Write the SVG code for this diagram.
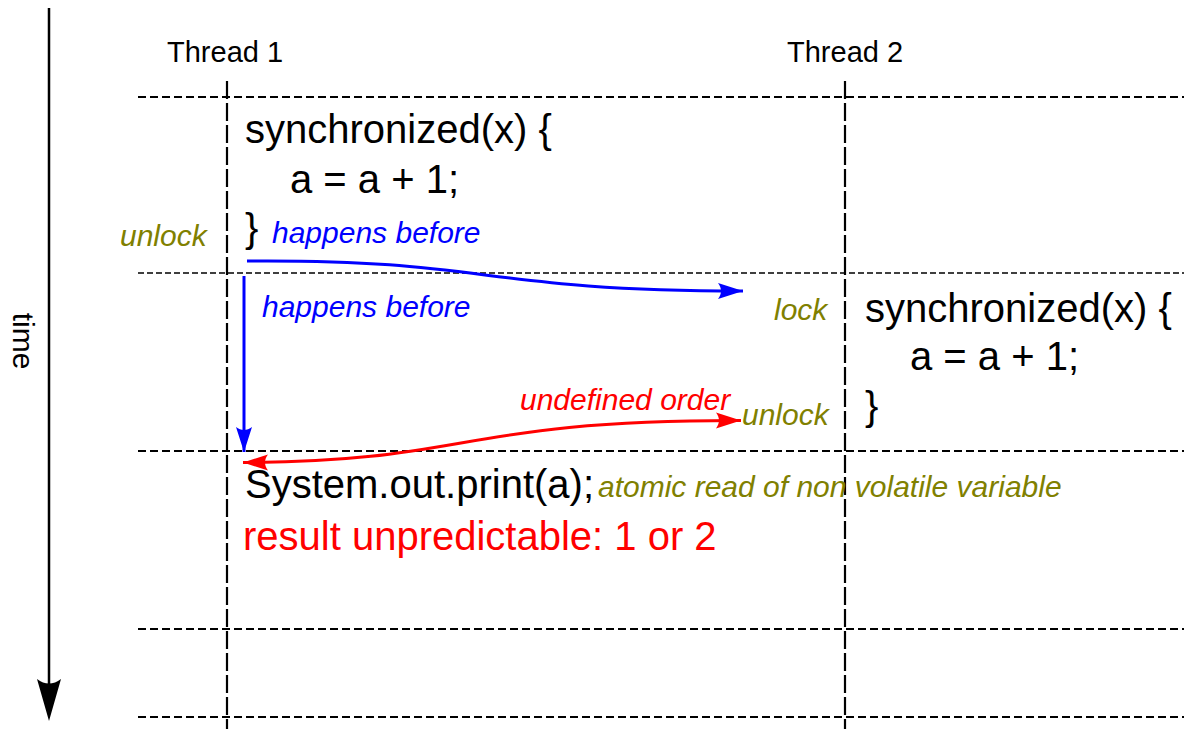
<svg xmlns="http://www.w3.org/2000/svg" width="1185" height="731" viewBox="0 0 1185 731">
  <style>
    text { font-family: "Liberation Sans", Arial, sans-serif; }
    .code { font-size: 40px; fill: #000; }
    .thread { font-size: 29px; fill: #000; }
    .note { font-size: 30px; font-style: italic; }
    .olive { fill: #808000; }
    .blue { fill: #0000ff; }
    .red { fill: #ff0000; }
    .grid { stroke: #000; fill: none; }
    .hline { stroke-width: 2.2; stroke-dasharray: 8 4; }
    .hthin { stroke-width: 1.3; stroke-dasharray: 6 3; }
    .vline { stroke-width: 2.2; stroke-dasharray: 18 4; }
    .conn { fill: none; stroke-width: 3; }
  </style>
  <defs>
    <marker id="arrowBlue" markerUnits="userSpaceOnUse" orient="auto" refX="0" refY="0" markerWidth="30" markerHeight="20" overflow="visible">
      <path d="M0,0 L-25,-8 C-21,-3 -21,3 -25,8 Z" fill="#0000ff"/>
    </marker>
    <marker id="arrowRed" markerUnits="userSpaceOnUse" orient="auto-start-reverse" refX="0" refY="0" markerWidth="30" markerHeight="20" overflow="visible">
      <path d="M0,0 L-25,-8 C-21,-3 -21,3 -25,8 Z" fill="#ff0000"/>
    </marker>
  </defs>

  <!-- time axis -->
  <g id="time-axis">
    <line x1="49" y1="8" x2="49" y2="700" stroke="#000" stroke-width="2.5"/>
    <path d="M49,721 L37,679 Q49,688 61,679 Z" fill="#000"/>
    <text x="13" y="341" font-size="30" text-anchor="middle" transform="rotate(90 13 341)">time</text>
  </g>

  <!-- grid: time slices and thread lanes -->
  <g id="grid" class="grid">
    <line class="hline" x1="138" y1="97" x2="1184" y2="97"/>
    <line class="hthin" x1="138" y1="273" x2="1184" y2="273"/>
    <line class="hline" x1="138" y1="451" x2="1184" y2="451"/>
    <line class="hline" x1="138" y1="629" x2="1184" y2="629"/>
    <line class="hline" x1="138" y1="717" x2="1184" y2="717"/>
    <line class="vline" x1="227" y1="81" x2="227" y2="729"/>
    <line class="vline" x1="845" y1="81" x2="845" y2="729"/>
  </g>

  <g id="thread1-label"><text class="thread" x="167" y="62">Thread 1</text></g>
  <g id="thread2-label"><text class="thread" x="787" y="62">Thread 2</text></g>

  <!-- thread 1 synchronized block -->
  <g id="t1-sync">
    <text class="code" x="245" y="143">synchronized(x) {</text>
    <text class="code" x="290" y="193">a = a + 1;</text>
    <text class="code" x="245" y="242">}</text>
    <text class="note olive" x="120" y="246">unlock</text>
  </g>

  <!-- thread 2 synchronized block -->
  <g id="t2-sync">
    <text class="note olive" x="774" y="320">lock</text>
    <text class="code" x="865" y="322">synchronized(x) {</text>
    <text class="code" x="910" y="370">a = a + 1;</text>
    <text class="code" x="865" y="420">}</text>
    <text class="note olive" x="742" y="425">unlock</text>
  </g>

  <!-- thread 1 read -->
  <g id="t1-read">
    <text class="code" x="245" y="498">System.out.print(a);</text>
    <text class="note olive" x="598" y="497">atomic read of non volatile variable</text>
    <text class="code red" x="243" y="550">result unpredictable: 1 or 2</text>
  </g>

  <!-- ordering relations -->
  <g id="connectors">
    <path class="conn" stroke="#0000ff" d="M247,261 C490,259 480,291 743,291" marker-end="url(#arrowBlue)"/>
    <text class="note blue" x="272" y="243">happens before</text>
    <path class="conn" stroke="#0000ff" d="M244,276 L244,452" marker-end="url(#arrowBlue)"/>
    <text class="note blue" x="262" y="317">happens before</text>
    <path class="conn" stroke="#ff0000" d="M243,462.5 C470,462 460,420 741,420.5" marker-start="url(#arrowRed)" marker-end="url(#arrowRed)"/>
    <text class="note red" x="520" y="410">undefined order</text>
  </g>
</svg>
